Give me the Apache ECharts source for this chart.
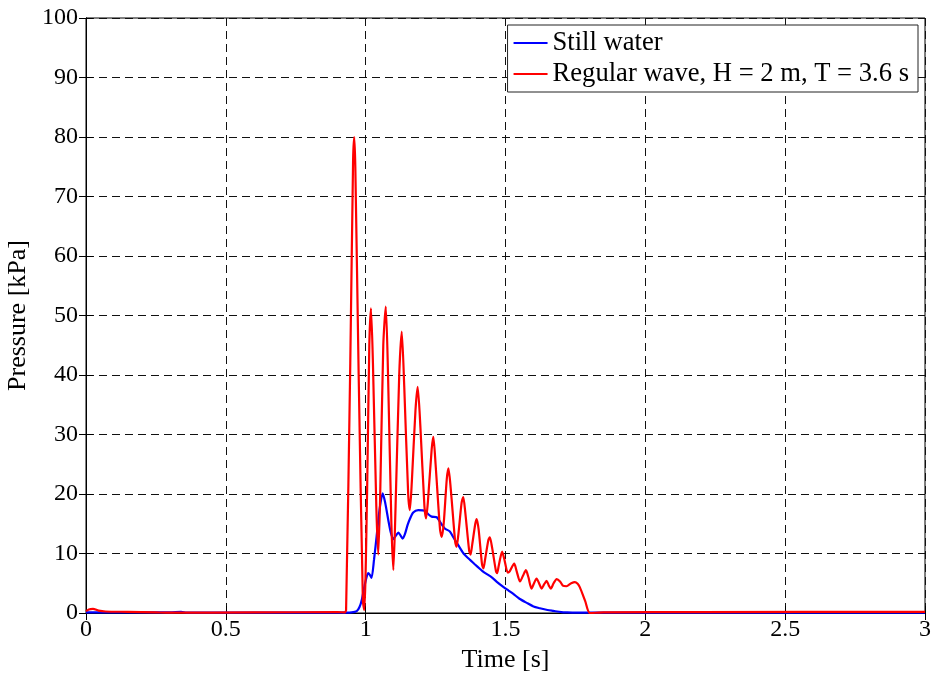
<!DOCTYPE html>
<html>
<head>
<meta charset="utf-8">
<script src="https://cdn.jsdelivr.net/npm/echarts@6/dist/echarts.min.js"></script>
<style>
html,body{margin:0;padding:0;background:#fff;}
#chart{width:932px;height:673px;}
</style>
</head>
<body>
<div id="chart"></div>
<script>
var xTicks = ['0','0.5','1','1.5','2','2.5','3'];
var yTicks = ['0','10','20','30','40','50','60','70','80','90','100'];
var seriesNames = ['Still water', 'Regular wave, H = 2 m, T = 3.6 s'];

var stillT = [0,0.3,0.34,0.36,0.9,0.95,0.968,0.978,0.986,0.998,1.009,1.015,1.021,1.03,1.039,1.05,1.061,1.07,1.081,1.09,1.099,1.108,1.117,1.125,1.132,1.14,1.15,1.158,1.17,1.188,1.212,1.224,1.236,1.254,1.27,1.283,1.301,1.315,1.331,1.35,1.367,1.39,1.409,1.421,1.451,1.47,1.492,1.51,1.528,1.55,1.576,1.6,1.623,1.65,1.671,1.7,1.718,1.75,3];
var stillP = [0.1,0.1,0.2,0.05,0.05,0.1,0.3,1,2.2,5,6.7,6.4,5.9,9,12.8,17.5,20.1,18.5,15.6,13.5,12.4,13,13.5,13,12.5,13.2,14.8,15.8,16.9,17.3,17.2,16.6,16.2,16.1,15,14.2,13.7,12.6,11.4,10,9.2,8.2,7.4,6.9,6.0,5.2,4.4,3.8,3.2,2.4,1.7,1.1,0.8,0.5,0.35,0.15,0.1,0.05,0.05];

var waveT = [0,0.01,0.025,0.045,0.07,0.15,0.25,0.3,0.6,0.9,0.925,0.93,0.945,0.955,0.959,0.963,0.975,0.99,0.995,1.005,1.013,1.019,1.026,1.038,1.045,1.052,1.063,1.072,1.08,1.092,1.099,1.107,1.12,1.129,1.138,1.152,1.158,1.165,1.178,1.186,1.196,1.21,1.216,1.223,1.236,1.242,1.25,1.266,1.272,1.279,1.29,1.296,1.304,1.32,1.325,1.331,1.343,1.349,1.356,1.37,1.375,1.381,1.392,1.397,1.404,1.416,1.421,1.427,1.439,1.444,1.452,1.466,1.47,1.476,1.488,1.496,1.508,1.515,1.531,1.54,1.552,1.562,1.573,1.582,1.593,1.602,1.611,1.62,1.629,1.638,1.647,1.655,1.662,1.672,1.683,1.695,1.705,1.718,1.735,1.748,1.758,1.766,1.785,1.802,1.85,2.2,3];
var waveP = [0.3,0.6,0.7,0.4,0.25,0.2,0.1,0.05,0.1,0.15,0.1,0.5,42,76,80,75,40,2,0.5,20,45,51.2,42,18,9.8,20,45,51.5,40,15,7.2,18,40,47.3,38,20,17.3,22,34,38,31,18,15.9,19,27.5,29.6,25,14,12.8,15,22.5,24.3,21,12,11.1,13,18.5,19.5,17,10.5,9.8,11.5,15,15.8,14,8.2,7.5,9,12.3,12.7,11,7,6.7,8,10.3,9,6.8,7,8.3,7,5.3,6.2,7.2,6,4.1,5,5.8,5,4.1,4.8,5.4,4.6,4.1,5,5.7,5.3,4.6,4.5,5,5.2,4.9,4.3,2,0,0.1,0.15,0.2];

function pairs(t, p){ return t.map(function(v,i){ return [v, p[i]]; }); }

var font = '"Liberation Serif", "Times New Roman", serif';
var chart = echarts.init(document.getElementById('chart'), null, {renderer:'canvas'});
var gridLine = {show:true, lineStyle:{color:'#111', type:[8,5], width:1}};
var option = {
  animation:false,
  backgroundColor:'#fff',
  textStyle:{fontFamily:font, color:'#000'},
  grid:{left:86, top:18, right:7, bottom:60, containLabel:false, outerBoundsMode:'none',
    show:true, borderColor:'#000', borderWidth:1, backgroundColor:'transparent'},
  legend:{
    right:14, top:25, orient:'vertical',
    data:seriesNames,
    icon:'rect', itemWidth:34, itemHeight:2, itemGap:3,
    padding:[4,9,4,6],
    backgroundColor:'#fff', borderColor:'#222', borderWidth:1,
    textStyle:{fontFamily:font, fontSize:26.6, color:'#000', lineHeight:28}
  },
  xAxis:[{
    type:'value', min:0, max:3, interval:0.5,
    name:'Time [s]', nameLocation:'middle', nameGap:34,
    nameTextStyle:{fontFamily:font, fontSize:26, color:'#000'},
    axisLine:{show:true, onZero:false, lineStyle:{color:'#000', width:1}},
    axisTick:{show:true, inside:true, length:7, lineStyle:{color:'#000'}},
    axisLabel:{fontFamily:font, fontSize:24, color:'#000', margin:5,
      formatter:function(v){ var s = xTicks[Math.round(v/0.5)]; return s===undefined? '' : s; }},
    splitLine:gridLine
  },{
    type:'value', min:0, max:3, interval:0.5, position:'top',
    axisLine:{show:true, lineStyle:{color:'#000'}},
    axisTick:{show:true, inside:true, length:7, lineStyle:{color:'#000'}},
    axisLabel:{show:false}, splitLine:{show:false}
  }],
  yAxis:[{
    type:'value', min:0, max:100, interval:10,
    name:'Pressure [kPa]', nameLocation:'middle', nameGap:51,
    nameTextStyle:{fontFamily:font, fontSize:26, color:'#000'},
    axisLine:{show:true, lineStyle:{color:'#000', width:1}},
    axisTick:{show:true, inside:true, length:7, lineStyle:{color:'#000'}},
    axisLabel:{fontFamily:font, fontSize:24, color:'#000', margin:8,
      formatter:function(v){ var s = yTicks[Math.round(v/10)]; return s===undefined? '' : s; }},
    splitLine:gridLine
  },{
    type:'value', min:0, max:100, interval:10, position:'right',
    axisLine:{show:true, lineStyle:{color:'#000'}},
    axisTick:{show:true, inside:true, length:7, lineStyle:{color:'#000'}},
    axisLabel:{show:false}, splitLine:{show:false}
  }],
  series:[{
    name:seriesNames[0], type:'line', data:pairs(stillT, stillP),
    showSymbol:false, symbol:'none', smooth:0.25,
    lineStyle:{color:'#0000ff', width:2.2}, itemStyle:{color:'#0000ff'}, z:3
  },{
    name:seriesNames[1], type:'line', data:pairs(waveT, waveP),
    showSymbol:false, symbol:'none', smooth:0.25,
    lineStyle:{color:'#ff0000', width:2.2}, itemStyle:{color:'#ff0000'}, z:4
  }]
};
chart.setOption(option);
</script>
</body>
</html>
